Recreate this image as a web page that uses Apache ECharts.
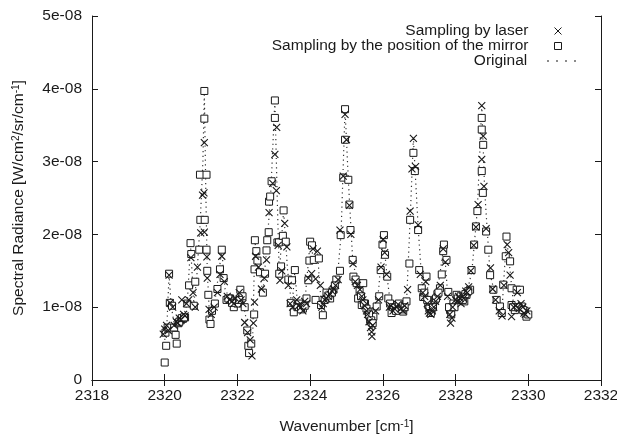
<!DOCTYPE html>
<html>
<head>
<meta charset="utf-8">
<script src="https://cdn.jsdelivr.net/npm/echarts@6/dist/echarts.min.js"></script>
<style>
  html, body { margin: 0; padding: 0; background: #fff; }
  #chart { width: 617px; height: 437px; }
</style>
</head>
<body>
<div id="chart"></div>
<script>
// values in units of 1e-8 W/cm2/sr/cm-1
const xTicks = [2318, 2320, 2322, 2324, 2326, 2328, 2330, 2332]
const yTicks = [0, 1, 2, 3, 4, 5]

// sampling by laser (x markers)
const laser = [
  [2319.96, 0.63], [2320.00, 0.70], [2320.05, 0.75], [2320.10, 0.68], [2320.15, 1.06],
  [2320.12, 1.44], [2320.22, 1.00], [2320.26, 0.75], [2320.32, 0.80], [2320.40, 0.85],
  [2320.47, 1.10], [2320.52, 0.90], [2320.60, 1.05], [2320.66, 1.10], [2320.72, 1.68],
  [2320.78, 1.20], [2320.84, 1.00], [2320.90, 1.55], [2320.99, 2.02], [2321.04, 2.54],
  [2321.09, 3.26], [2321.08, 2.57], [2321.09, 2.03], [2321.16, 1.69], [2321.17, 1.40],
  [2321.22, 0.97], [2321.28, 0.90], [2321.36, 1.00], [2321.45, 1.20], [2321.52, 1.45],
  [2321.57, 1.70], [2321.64, 1.35], [2321.72, 1.15], [2321.85, 1.08], [2321.95, 1.12],
  [2322.05, 1.20], [2322.15, 1.05], [2322.20, 0.79], [2322.28, 0.65], [2322.40, 0.33],
  [2322.35, 0.55], [2322.44, 0.78], [2322.47, 1.07], [2322.50, 1.70], [2322.58, 1.55],
  [2322.66, 1.25], [2322.74, 1.40], [2322.80, 1.65], [2322.87, 2.30], [2322.97, 2.70],
  [2323.08, 3.47], [2323.03, 3.10], [2323.07, 2.60], [2323.12, 1.85], [2323.17, 1.37],
  [2323.22, 1.50], [2323.30, 2.15], [2323.36, 1.83], [2323.40, 1.30], [2323.45, 1.05],
  [2323.52, 1.00], [2323.63, 1.10], [2323.75, 1.00], [2323.85, 1.08], [2323.95, 1.40],
  [2324.04, 1.46], [2324.08, 1.80], [2324.15, 1.39], [2324.20, 1.77], [2324.28, 1.30],
  [2324.32, 1.00], [2324.40, 1.10], [2324.50, 1.15], [2324.60, 1.22], [2324.70, 1.30],
  [2324.77, 1.38], [2324.82, 2.06], [2324.91, 2.80], [2324.96, 3.65], [2325.00, 3.30],
  [2325.08, 2.40], [2325.12, 2.00], [2325.18, 1.60], [2325.24, 1.35], [2325.37, 1.24],
  [2325.45, 1.10], [2325.55, 0.95], [2325.62, 0.80], [2325.69, 0.66], [2325.72, 0.75],
  [2325.80, 0.95], [2325.88, 1.10], [2325.95, 1.55], [2326.01, 1.93], [2326.05, 1.75],
  [2326.10, 1.45], [2326.18, 1.00], [2326.28, 0.95], [2326.38, 1.00], [2326.50, 0.98],
  [2326.60, 1.02], [2326.68, 1.24], [2326.75, 2.32], [2326.80, 2.90], [2326.84, 3.32],
  [2326.90, 2.93], [2326.97, 2.13], [2327.03, 1.45], [2327.10, 1.20], [2327.18, 1.35],
  [2327.25, 0.95], [2327.32, 0.90], [2327.40, 1.00], [2327.50, 1.15], [2327.58, 1.30],
  [2327.66, 1.80], [2327.72, 1.62], [2327.78, 1.15], [2327.86, 0.78], [2327.92, 1.00],
  [2328.00, 1.10], [2328.08, 1.15], [2328.15, 1.05], [2328.22, 1.12], [2328.32, 1.20],
  [2328.42, 1.50], [2328.50, 1.85], [2328.56, 2.10], [2328.62, 2.41], [2328.72, 3.77],
  [2328.76, 3.35], [2328.72, 3.03], [2328.78, 2.66], [2328.84, 2.08], [2328.96, 1.54],
  [2329.02, 1.25], [2329.10, 1.10], [2329.20, 0.95], [2329.28, 0.88], [2329.33, 1.30],
  [2329.42, 1.86], [2329.46, 1.75], [2329.50, 1.44], [2329.54, 0.87], [2329.60, 1.00],
  [2329.70, 1.20], [2329.80, 1.05], [2329.88, 0.92], [2329.96, 0.95],
  // dense low-level clusters
  [2320.36, 0.78], [2320.44, 0.83], [2320.56, 0.88], [2321.78, 1.10], [2321.90, 1.05],
  [2322.10, 1.10], [2323.68, 1.02], [2323.80, 0.95], [2323.90, 1.05], [2324.36, 1.05],
  [2324.45, 1.12], [2324.55, 1.18], [2324.65, 1.25], [2325.30, 1.30], [2325.42, 1.15],
  [2325.50, 1.02], [2325.58, 0.90], [2325.66, 0.72], [2325.70, 0.60], [2326.22, 1.02],
  [2326.32, 0.98], [2326.42, 1.04], [2326.55, 0.95], [2327.15, 1.15], [2327.22, 1.05],
  [2327.28, 0.92], [2327.36, 0.95], [2327.45, 1.08], [2327.84, 0.90], [2327.90, 0.85],
  [2328.05, 1.08], [2328.12, 1.12], [2328.20, 1.15], [2328.28, 1.22], [2328.36, 1.28],
  [2329.65, 1.02], [2329.75, 0.98], [2329.85, 1.00], [2329.92, 0.90]
]

// sampling by the position of the mirror (squares)
const mirror = [
  [2320.00, 0.24], [2320.04, 0.47], [2320.02, 0.65], [2320.08, 0.72], [2320.12, 1.46],
  [2320.14, 1.06], [2320.20, 1.02], [2320.26, 0.72], [2320.30, 0.62], [2320.33, 0.50],
  [2320.38, 0.78], [2320.44, 0.82], [2320.50, 0.84], [2320.56, 0.86], [2320.62, 1.05],
  [2320.67, 1.30], [2320.71, 1.88], [2320.73, 1.73], [2320.80, 1.02], [2320.84, 1.35],
  [2320.95, 1.79], [2320.97, 2.82], [2320.98, 2.20], [2321.09, 3.97], [2321.09, 3.59],
  [2321.15, 2.82], [2321.10, 2.20], [2321.15, 1.79], [2321.17, 1.50], [2321.20, 1.17],
  [2321.23, 0.83], [2321.26, 0.77], [2321.30, 0.95], [2321.38, 1.05], [2321.45, 1.25],
  [2321.52, 1.52], [2321.57, 1.79], [2321.62, 1.40], [2321.70, 1.10], [2321.80, 1.12],
  [2321.90, 1.00], [2322.00, 1.05], [2322.08, 1.24], [2322.14, 1.15], [2322.20, 1.00],
  [2322.27, 0.68], [2322.30, 0.47], [2322.32, 0.37], [2322.38, 0.50], [2322.46, 0.90],
  [2322.47, 1.52], [2322.48, 1.92], [2322.52, 1.77], [2322.55, 1.64], [2322.62, 1.48],
  [2322.70, 1.20], [2322.76, 1.46], [2322.80, 1.78], [2322.82, 1.92], [2322.86, 2.03],
  [2322.87, 2.45], [2322.90, 2.52], [2322.94, 2.73], [2323.03, 3.84], [2323.03, 3.60],
  [2323.10, 1.89], [2323.14, 1.89], [2323.15, 1.46], [2323.20, 1.56], [2323.25, 1.98],
  [2323.27, 2.33], [2323.33, 1.90], [2323.40, 1.38], [2323.47, 1.06], [2323.55, 0.93],
  [2323.58, 1.51], [2323.50, 1.37], [2323.70, 1.05], [2323.80, 0.98], [2323.90, 1.12],
  [2323.95, 1.37], [2324.00, 1.90], [2323.98, 1.64], [2324.10, 1.65], [2324.05, 1.85],
  [2324.15, 1.10], [2324.24, 1.67], [2324.30, 1.03], [2324.35, 0.89], [2324.45, 1.20],
  [2324.55, 1.12], [2324.64, 1.24], [2324.72, 1.38], [2324.82, 1.50], [2324.84, 1.99],
  [2324.91, 2.78], [2324.96, 3.72], [2324.96, 3.30], [2325.05, 2.75], [2325.08, 2.41],
  [2325.11, 2.06], [2325.17, 1.65], [2325.19, 1.42], [2325.28, 1.33], [2325.32, 1.12],
  [2325.42, 1.03], [2325.46, 1.33], [2325.51, 1.05], [2325.60, 0.94], [2325.65, 0.83],
  [2325.74, 0.87], [2325.83, 1.01], [2325.90, 1.15], [2325.94, 1.51], [2325.99, 1.86],
  [2326.03, 1.99], [2326.06, 1.72], [2326.12, 1.42], [2326.15, 1.12], [2326.24, 0.92],
  [2326.33, 1.03], [2326.40, 0.98], [2326.47, 1.01], [2326.56, 0.94], [2326.65, 1.08],
  [2326.73, 1.60], [2326.75, 2.20], [2326.84, 3.12], [2326.88, 2.87], [2326.97, 2.06],
  [2327.00, 1.51], [2327.07, 1.26], [2327.11, 1.14], [2327.20, 1.42], [2327.25, 1.03],
  [2327.34, 0.96], [2327.43, 1.10], [2327.50, 1.18], [2327.57, 1.26], [2327.62, 1.45],
  [2327.66, 1.77], [2327.68, 1.86], [2327.75, 1.65], [2327.80, 1.21], [2327.85, 0.96],
  [2327.94, 1.05], [2328.03, 1.17], [2328.10, 1.10], [2328.17, 1.12], [2328.24, 1.08],
  [2328.30, 1.17], [2328.40, 1.24], [2328.44, 1.51], [2328.51, 1.86], [2328.56, 2.11],
  [2328.60, 2.32], [2328.72, 3.60], [2328.72, 3.44], [2328.76, 3.23], [2328.72, 2.87],
  [2328.75, 2.57], [2328.84, 2.04], [2328.90, 1.79], [2328.95, 1.44], [2329.04, 1.24],
  [2329.13, 1.10], [2329.22, 1.01], [2329.27, 0.92], [2329.31, 1.31], [2329.40, 1.97],
  [2329.38, 1.70], [2329.50, 1.63], [2329.54, 1.26], [2329.54, 1.03], [2329.63, 0.96],
  [2329.68, 1.24], [2329.77, 1.24], [2329.82, 1.01], [2329.90, 0.95], [2329.95, 0.87],
  [2330.00, 0.90],
  // dense low-level clusters
  [2320.40, 0.80], [2320.47, 0.85], [2320.53, 0.86], [2321.75, 1.12], [2321.85, 1.06],
  [2322.05, 1.10], [2323.65, 1.00], [2323.75, 0.97], [2323.85, 1.02], [2324.40, 1.10],
  [2324.50, 1.16], [2324.60, 1.20], [2324.68, 1.30], [2325.25, 1.38], [2325.36, 1.22],
  [2325.40, 1.15], [2325.48, 1.05], [2325.55, 0.98], [2325.62, 0.90], [2325.68, 0.82],
  [2325.72, 0.78], [2326.20, 1.05], [2326.28, 1.00], [2326.36, 0.95], [2326.44, 1.05],
  [2326.52, 0.97], [2326.60, 1.00], [2327.14, 1.20], [2327.22, 1.10], [2327.28, 0.98],
  [2327.32, 0.92], [2327.38, 1.00], [2327.46, 1.12], [2327.53, 1.20], [2327.82, 1.00],
  [2327.88, 0.90], [2327.97, 1.00], [2328.06, 1.12], [2328.14, 1.15], [2328.20, 1.10],
  [2328.27, 1.18], [2328.35, 1.22], [2329.58, 1.00], [2329.72, 1.00], [2329.86, 0.96]
]

// original spectrum (dotted)
const original = [
  [2320.00, 0.55], [2320.06, 0.75], [2320.12, 1.45], [2320.18, 1.02], [2320.28, 0.70],
  [2320.36, 0.80], [2320.50, 0.85], [2320.62, 1.05], [2320.71, 1.85], [2320.80, 1.05],
  [2320.88, 1.40], [2320.98, 2.20], [2321.05, 3.00], [2321.09, 3.95], [2321.13, 2.60],
  [2321.17, 1.50], [2321.24, 0.80], [2321.40, 1.15], [2321.57, 1.78], [2321.66, 1.25],
  [2321.85, 1.05], [2322.08, 1.22], [2322.22, 0.90], [2322.32, 0.35], [2322.42, 0.60],
  [2322.48, 1.90], [2322.58, 1.55], [2322.70, 1.20], [2322.82, 1.90], [2322.92, 2.60],
  [2323.03, 3.85], [2323.10, 2.40], [2323.15, 1.45], [2323.27, 2.33], [2323.38, 1.50],
  [2323.50, 1.00], [2323.58, 1.50], [2323.65, 1.05], [2323.85, 1.05], [2324.00, 1.90],
  [2324.12, 1.60], [2324.20, 1.75], [2324.32, 0.95], [2324.55, 1.15], [2324.75, 1.40],
  [2324.85, 2.00], [2324.96, 3.72], [2325.05, 2.75], [2325.17, 1.65], [2325.35, 1.20],
  [2325.55, 0.95], [2325.69, 0.65], [2325.85, 1.05], [2326.01, 1.98], [2326.12, 1.40],
  [2326.24, 0.92], [2326.45, 1.00], [2326.65, 1.05], [2326.75, 2.20], [2326.84, 3.32],
  [2326.97, 2.10], [2327.10, 1.15], [2327.20, 1.40], [2327.30, 0.95], [2327.50, 1.20],
  [2327.68, 1.86], [2327.78, 1.20], [2327.86, 0.80], [2328.05, 1.15], [2328.30, 1.17],
  [2328.45, 1.50], [2328.60, 2.35], [2328.72, 3.77], [2328.80, 2.60], [2328.95, 1.45],
  [2329.15, 1.05], [2329.27, 0.90], [2329.40, 1.97], [2329.50, 1.50], [2329.60, 1.00],
  [2329.80, 1.05], [2330.00, 0.88]
]

const FONT = 'Liberation Sans, Arial, sans-serif'
const FS = 15.5
const INK = '#1a1a1a'

const chart = echarts.init(document.getElementById('chart'), null, { renderer: 'canvas' })

const nameRich = {
  sup: { fontSize: 10, verticalAlign: 'top', fontFamily: FONT, color: INK }
}

function axisCommon(withLabels) {
  return {
    axisLine: { show: true, lineStyle: { color: INK, width: 1 } },
    axisTick: { show: true, inside: true, length: 6, lineStyle: { color: INK } },
    splitLine: { show: false },
    axisLabel: { show: withLabels, color: INK, fontSize: FS, fontFamily: FONT, margin: 10 }
  }
}

// one legend per entry so the icons line up on the right like gnuplot's key
function legendFor(name, top, right, iconWidth, gap, extra) {
  return Object.assign({
    data: [name],
    orient: 'vertical',
    align: 'right',
    right: right,
    top: top,
    itemWidth: iconWidth,
    itemHeight: 7,
    selectedMode: false,
    padding: 0,
    formatter: function (n) { return n + '{g|}' },
    textStyle: {
      color: INK, fontSize: FS, fontFamily: FONT,
      rich: { g: { width: gap } }
    }
  }, extra)
}

const option = {
  backgroundColor: '#fff',
  animation: false,
  grid: { left: 92, right: 16, top: 16, bottom: 57, outerBoundsMode: 'none' },
  legend: [
    legendFor('Sampling by laser', 23, 55, 7, 21, {
      itemStyle: { color: 'rgba(0,0,0,0)', borderColor: INK, borderWidth: 1 }
    }),
    legendFor('Sampling by the position of the mirror', 38, 55, 7, 21, {
      itemStyle: { color: '#fff', borderColor: INK, borderWidth: 1 }
    }),
    legendFor('Original', 53, 40, 29, 15, {
      itemStyle: { color: 'rgba(0,0,0,0)', borderWidth: 0 },
      lineStyle: { color: '#333', width: 1.5, type: [1.5, 7.5] }
    })
  ],
  xAxis: [
    Object.assign(axisCommon(true), {
      type: 'value',
      min: xTicks[0],
      max: xTicks[xTicks.length - 1],
      interval: 2,
      name: 'Wavenumber [cm{sup|-1}]',
      nameLocation: 'middle',
      nameGap: 39,
      nameTextStyle: { color: INK, fontSize: FS, fontFamily: FONT, rich: nameRich }
    }),
    Object.assign(axisCommon(false), {
      type: 'value',
      position: 'top',
      min: xTicks[0],
      max: xTicks[xTicks.length - 1],
      interval: 2
    })
  ],
  yAxis: [
    Object.assign(axisCommon(true), {
      type: 'value',
      min: yTicks[0],
      max: yTicks[yTicks.length - 1],
      interval: 1,
      name: 'Spectral Radiance [W/cm{sup|2}/sr/cm{sup|-1}]',
      nameLocation: 'middle',
      nameGap: 65,
      nameTextStyle: { color: INK, fontSize: FS, fontFamily: FONT, rich: nameRich }
    }),
    Object.assign(axisCommon(false), {
      type: 'value',
      position: 'right',
      min: yTicks[0],
      max: yTicks[yTicks.length - 1],
      interval: 1
    })
  ],
  series: [
    {
      name: 'Original',
      type: 'line',
      data: original,
      symbol: 'none',
      z: 1,
      lineStyle: { color: '#333', width: 1.2, type: [1.2, 3.5] }
    },
    {
      name: 'Sampling by the position of the mirror',
      type: 'scatter',
      data: mirror,
      symbol: 'rect',
      symbolSize: 7,
      z: 2,
      itemStyle: { color: '#fff', borderColor: INK, borderWidth: 1, opacity: 1 }
    },
    {
      name: 'Sampling by laser',
      type: 'scatter',
      data: laser,
      symbol: 'path://M0,0L10,10M10,0L0,10',
      symbolSize: 7,
      z: 3,
      itemStyle: { color: 'rgba(0,0,0,0)', borderColor: INK, borderWidth: 1.1, opacity: 1 }
    }
  ]
}

option.xAxis[0].axisLabel.margin = 8
option.xAxis[0].axisLabel.formatter = function (v) { return String(v) }
// y labels like gnuplot: 0, 1e-08, 2e-08 ...
option.yAxis[0].axisLabel.formatter = function (v) {
  return v === 0 ? '0' : v + 'e-08'
}

chart.setOption(option)
</script>
</body>
</html>
